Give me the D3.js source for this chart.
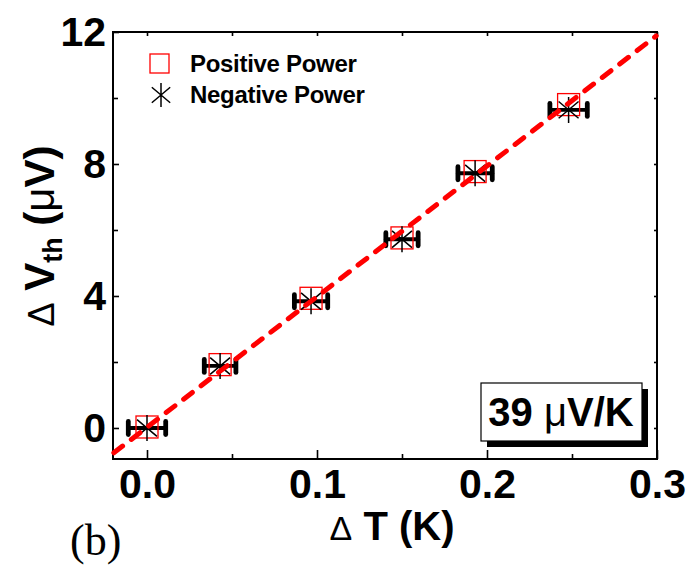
<!DOCTYPE html>
<html>
<head>
<meta charset="utf-8">
<script src="https://cdn.jsdelivr.net/npm/d3@7"></script>
<style>
  html, body { margin: 0; padding: 0; background: #fff; }
  svg { display: block; font-family: "Liberation Sans", Arial, sans-serif; }
</style>
</head>
<body>
<svg id="chart" width="691" height="571"></svg>
<script>
// values
const deltaT = [0.0, 0.043, 0.0965, 0.150, 0.193, 0.248];
const posPower = [0.03, 1.92, 3.93, 5.76, 7.77, 9.80];
const negPower = [0.0, 1.88, 3.84, 5.72, 7.72, 9.64];
const errT = [0.011, 0.0093, 0.0098, 0.0095, 0.0101, 0.011];
const fitSlope = 39.6;      // uV/K
const fitIntercept = 0.02;  // uV
const xMajor = [0, 0.1, 0.2, 0.3];
const xMinor = [0.05, 0.15, 0.25];
const yMajor = [0, 4, 8, 12];
const yMinor = [2, 6, 10];

const svg = d3.select("#chart");
const plotL = 113, plotR = 657, plotT = 32, plotB = 459;

const x = d3.scaleLinear().domain([-0.02, 0.3]).range([plotL, plotR]);
const y = d3.scaleLinear().domain([-0.94, 12]).range([plotB, plotT]);

const styleAxis = (sel) => {
  sel.select(".domain").remove();
  sel.selectAll("line").attr("stroke", "#000").attr("stroke-width", 1.6);
  sel.selectAll("text").attr("font-size", 41).attr("font-weight", "bold").attr("fill", "#000");
};

// bottom axis
svg.append("g").attr("transform", `translate(0,${plotB})`)
  .call(d3.axisBottom(x).tickValues(xMajor).tickSize(-9).tickPadding(10).tickFormat(d3.format(".1f")))
  .call(styleAxis);
svg.append("g").attr("transform", `translate(0,${plotB})`)
  .call(d3.axisBottom(x).tickValues(xMinor).tickSize(-5).tickFormat(""))
  .call(styleAxis);
// top axis (ticks only)
svg.append("g").attr("transform", `translate(0,${plotT})`)
  .call(d3.axisTop(x).tickValues(xMajor.concat(xMinor)).tickSize(-4).tickFormat(""))
  .call(styleAxis);

// left axis
svg.append("g").attr("transform", `translate(${plotL},0)`)
  .call(d3.axisLeft(y).tickValues(yMajor).tickSize(-6).tickPadding(7).tickFormat(d3.format("d")))
  .call(styleAxis);
svg.append("g").attr("transform", `translate(${plotL},0)`)
  .call(d3.axisLeft(y).tickValues(yMinor).tickSize(-5).tickFormat(""))
  .call(styleAxis);
// right axis (ticks only)
svg.append("g").attr("transform", `translate(${plotR},0)`)
  .call(d3.axisRight(y).tickValues(yMajor.concat(yMinor)).tickSize(-3).tickFormat(""))
  .call(styleAxis);

// frame
svg.append("rect")
  .attr("x", plotL).attr("y", plotT)
  .attr("width", plotR - plotL).attr("height", plotB - plotT)
  .attr("fill", "none").attr("stroke", "#000").attr("stroke-width", 2);

const pts = deltaT.map((t, i) => ({ t, pos: posPower[i], neg: negPower[i], e: errT[i] }));

// error bars
const eb = svg.append("g").attr("stroke", "#000").attr("stroke-linecap", "round");
eb.selectAll(".bar").data(pts).join("line")
  .attr("x1", (d) => x(d.t - d.e)).attr("x2", (d) => x(d.t + d.e))
  .attr("y1", (d) => y(d.neg)).attr("y2", (d) => y(d.neg))
  .attr("stroke-width", 3.8);
eb.selectAll(".capL").data(pts).join("line")
  .attr("x1", (d) => x(d.t - d.e)).attr("x2", (d) => x(d.t - d.e))
  .attr("y1", (d) => y(d.neg) - 6.5).attr("y2", (d) => y(d.neg) + 6.5)
  .attr("stroke-width", 4.8);
eb.selectAll(".capR").data(pts).join("line")
  .attr("x1", (d) => x(d.t + d.e)).attr("x2", (d) => x(d.t + d.e))
  .attr("y1", (d) => y(d.neg) - 6.5).attr("y2", (d) => y(d.neg) + 6.5)
  .attr("stroke-width", 4.8);

// open red squares (positive power)
const sq = 22;
svg.append("g").selectAll("rect").data(pts).join("rect")
  .attr("x", (d) => x(d.t) - sq / 2).attr("y", (d) => y(d.pos) - sq / 2)
  .attr("width", sq).attr("height", sq)
  .attr("fill", "none").attr("stroke", "#ff0000").attr("stroke-width", 1.3);

// asterisks (negative power)
const asterisk = (g, cx, cy, r) => {
  const a = 50 * Math.PI / 180;
  const dx = r * Math.sin(a), dy = r * Math.cos(a);
  const p = `M${cx},${cy - r}L${cx},${cy + r}` +
    `M${cx - dx},${cy - dy}L${cx + dx},${cy + dy}` +
    `M${cx - dx},${cy + dy}L${cx + dx},${cy - dy}`;
  g.append("path").attr("d", p).attr("stroke", "#000").attr("stroke-width", 1.5).attr("fill", "none");
};
const ag = svg.append("g");
pts.forEach((d) => asterisk(ag, x(d.t), y(d.neg), 13));

// linear fit
const fit = d3.line().x((d) => x(d)).y((d) => y(fitSlope * d + fitIntercept));
svg.append("path")
  .datum([-0.0195, 0.2995])
  .attr("d", fit)
  .attr("fill", "none").attr("stroke", "#ff0000").attr("stroke-width", 5)
  .attr("stroke-linecap", "round").attr("stroke-dasharray", "11,11");

// legend
const lg = svg.append("g");
lg.append("rect").attr("x", 150).attr("y", 54).attr("width", 19).attr("height", 19)
  .attr("fill", "none").attr("stroke", "#ff0000").attr("stroke-width", 1.3);
asterisk(lg, 161, 95, 12);
lg.append("text").attr("x", 190).attr("y", 72).attr("font-size", 24).attr("font-weight", "bold")
  .attr("letter-spacing", -0.3).text("Positive Power");
lg.append("text").attr("x", 190).attr("y", 103).attr("font-size", 24).attr("font-weight", "bold")
  .attr("letter-spacing", -0.3).text("Negative Power");

// slope box with shadow
svg.append("rect").attr("x", 487).attr("y", 389).attr("width", 161).attr("height", 58).attr("fill", "#000");
svg.append("rect").attr("x", 481).attr("y", 383).attr("width", 161).attr("height", 58)
  .attr("fill", "#fff").attr("stroke", "#000").attr("stroke-width", 1.2);
const st = svg.append("text").attr("x", 561).attr("y", 426).attr("text-anchor", "middle")
  .attr("font-size", 40).attr("font-weight", "bold");
st.append("tspan").text("39 ");
st.append("tspan").attr("font-weight", "normal").text("μ");
st.append("tspan").text("V/K");

// axis titles
const xt = svg.append("text").attr("x", 392).attr("y", 540).attr("text-anchor", "middle")
  .attr("font-size", 40).attr("font-weight", "bold");
xt.append("tspan").attr("font-weight", "normal").attr("font-size", 34).text("Δ");
xt.append("tspan").text(" T (K)");

const yt = svg.append("text").attr("transform", "translate(54,236) rotate(-90)")
  .attr("text-anchor", "middle").attr("font-size", 42).attr("font-weight", "bold");
yt.append("tspan").attr("font-weight", "normal").attr("font-size", 36).text("Δ");
yt.append("tspan").text(" V");
yt.append("tspan").attr("font-size", 27).attr("dy", 8).text("th");
yt.append("tspan").attr("dy", -8).text(" (");
yt.append("tspan").attr("font-weight", "normal").text("μ");
yt.append("tspan").text("V)");

// panel label
svg.append("text").attr("x", 70).attr("y", 555)
  .attr("font-family", "'Liberation Serif', 'Times New Roman', serif")
  .attr("font-size", 44).text("(b)");
</script>
</body>
</html>
